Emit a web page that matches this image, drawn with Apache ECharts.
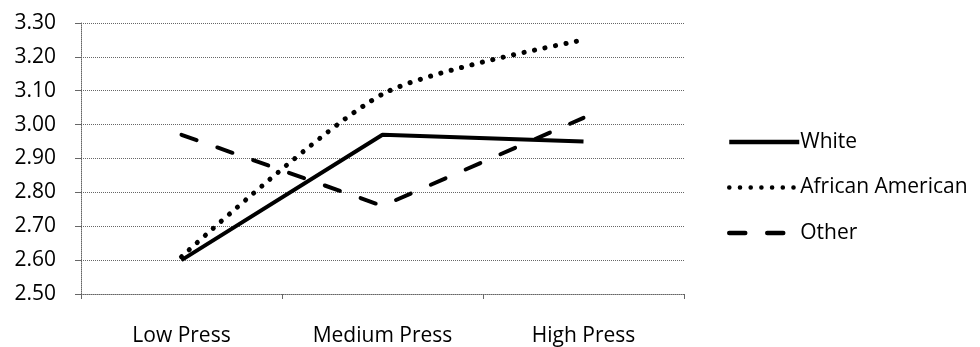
<!DOCTYPE html>
<html><head><meta charset="utf-8">
<script src="https://cdn.jsdelivr.net/npm/echarts@6/dist/echarts.min.js"></script>
<style>html,body{margin:0;padding:0;background:#fff}#c{width:980px;height:347px}</style>
</head><body><div id="c"></div>
<script>
const categories = ['Low Press', 'Medium Press', 'High Press'];
const white = [2.60, 2.97, 2.95];
const africanAmerican = [2.61, 3.09, 3.25];
const other = [2.97, 2.76, 3.02];
const yTicks = { min: 2.5, max: 3.3, interval: 0.1 };
const FONT = '"Open Sans", Lato, sans-serif';

const chart = echarts.init(document.getElementById('c'));
chart.setOption({
  animation: false,
  backgroundColor: '#fff',
  grid: { left: 81, right: 296, top: 23, bottom: 50, containLabel: false },
  legend: {
    orient: 'vertical', left: 722, top: 125, itemWidth: 70, itemHeight: 14, itemGap: 21.5,
    itemStyle: { opacity: 0 },
    lineStyle: { width: 4.5 },
    textStyle: { fontFamily: FONT, fontSize: 21, color: '#000', lineHeight: 24, padding: [0, 0, 0, -4] },
    data: ['White', 'African American', 'Other']
  },
  xAxis: {
    type: 'category', data: categories, boundaryGap: true,
    axisLine: { lineStyle: { color: '#666', width: 1, type: 'dotted' } },
    axisTick: { show: true, length: 5, lineStyle: { color: '#666' } },
    axisLabel: { margin: 32, fontFamily: FONT, fontSize: 21, color: '#000' }
  },
  yAxis: {
    type: 'value', min: yTicks.min, max: yTicks.max, interval: yTicks.interval,
    axisLine: { show: true, lineStyle: { color: '#666', width: 1, type: 'dotted' } },
    axisTick: { show: true, length: 6, lineStyle: { color: '#666' } },
    axisLabel: { margin: 25, fontFamily: FONT, fontSize: 21, color: '#000',
      formatter: v => v.toFixed(2) },
    splitLine: { lineStyle: { color: '#666', width: 1, type: 'dotted' } }
  },
  series: [
    { name: 'White', type: 'line', data: white, symbol: 'none',
      lineStyle: { color: '#000', width: 4, type: 'solid' }, itemStyle: { color: '#000' } },
    { name: 'African American', type: 'line', data: africanAmerican, symbol: 'none', smooth: 0.25,
      lineStyle: { color: '#000', width: 5, type: [0.1, 10.6], cap: 'round' }, itemStyle: { color: '#000' } },
    { name: 'Other', type: 'line', data: other, symbol: 'none',
      lineStyle: { color: '#000', width: 4, type: [16, 22], cap: 'round' }, itemStyle: { color: '#000' } }
  ]
});
</script></body></html>
